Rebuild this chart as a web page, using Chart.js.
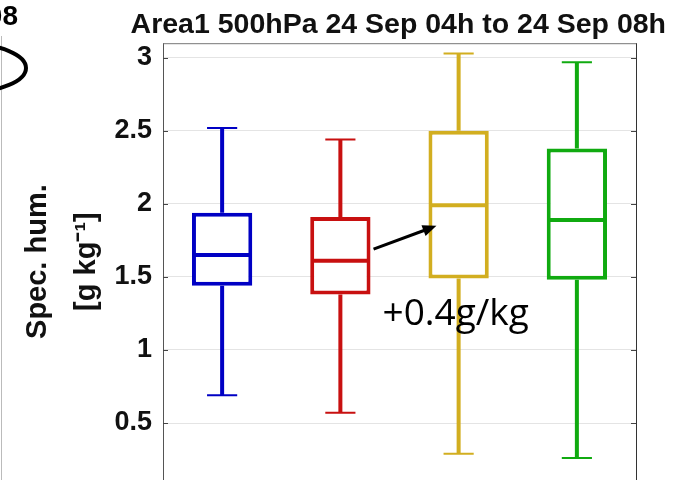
<!DOCTYPE html>
<html>
<head>
<meta charset="utf-8">
<title>Spec. hum. Area1 500hPa</title>
<script src="https://cdn.jsdelivr.net/npm/chart.js@4.4.1/dist/chart.umd.min.js"></script>
<style>
  body { margin: 0; background: #fff; }
  canvas { display: block; }
</style>
</head>
<body>
<canvas id="humChart" width="677" height="480"></canvas>
<script>
// values (g/kg)
var categories = ['1', '2', '3', '4'];
var lowerWhisker = [0.69, 0.57, 0.29, 0.26];
var lowerQuartile = [1.44, 1.38, 1.49, 1.48];
var medianValues = [1.65, 1.61, 1.99, 1.89];
var upperQuartile = [1.94, 1.91, 2.50, 2.38];
var upperWhisker = [2.52, 2.44, 3.03, 2.97];
var yTickValues = [0.5, 1, 1.5, 2, 2.5, 3];
var boxColors = ['#0000c4', '#c81010', '#d2ae20', '#10aa10'];

var FONT = "'Liberation Sans', Arial, sans-serif";

// whiskers under the boxes, medians on top
var boxPlot = {
    id: 'boxPlot',
    beforeDatasetsDraw: function(chart) {
        var ctx = chart.ctx;
        var y = chart.scales.y;
        chart.getDatasetMeta(0).data.forEach(function(bar, i) {
            var cap = bar.width / 4;
            ctx.save();
            ctx.strokeStyle = boxColors[i];
            ctx.lineWidth = 4;
            ctx.beginPath();
            ctx.moveTo(bar.x, y.getPixelForValue(upperQuartile[i]));
            ctx.lineTo(bar.x, y.getPixelForValue(upperWhisker[i]));
            ctx.moveTo(bar.x, y.getPixelForValue(lowerQuartile[i]));
            ctx.lineTo(bar.x, y.getPixelForValue(lowerWhisker[i]));
            ctx.stroke();
            ctx.lineWidth = 2;
            ctx.beginPath();
            ctx.moveTo(bar.x - cap, y.getPixelForValue(upperWhisker[i]));
            ctx.lineTo(bar.x + cap, y.getPixelForValue(upperWhisker[i]));
            ctx.moveTo(bar.x - cap, y.getPixelForValue(lowerWhisker[i]));
            ctx.lineTo(bar.x + cap, y.getPixelForValue(lowerWhisker[i]));
            ctx.stroke();
            ctx.restore();
        });
    },
    afterDatasetsDraw: function(chart) {
        var ctx = chart.ctx;
        var y = chart.scales.y;
        chart.getDatasetMeta(0).data.forEach(function(bar, i) {
            var half = bar.width / 2 - 2;
            var py = y.getPixelForValue(medianValues[i]);
            ctx.save();
            ctx.strokeStyle = boxColors[i];
            ctx.lineWidth = 4;
            ctx.beginPath();
            ctx.moveTo(bar.x - half, py);
            ctx.lineTo(bar.x + half, py);
            ctx.stroke();
            ctx.restore();
        });
    }
};

// top/right frame, inner tick marks, arrow + note, bits of the neighbour panel
var decorations = {
    id: 'decorations',
    afterDraw: function(chart) {
        var ctx = chart.ctx;
        var a = chart.chartArea;
        var y = chart.scales.y;
        var bars = chart.getDatasetMeta(0).data;

        ctx.save();
        ctx.strokeStyle = '#777';
        ctx.lineWidth = 1;
        ctx.beginPath();
        ctx.moveTo(a.left, a.top + 0.5);
        ctx.lineTo(a.right, a.top + 0.5);
        ctx.stroke();
        ctx.strokeStyle = '#333';
        ctx.beginPath();
        ctx.moveTo(a.right + 0.5, a.top);
        ctx.lineTo(a.right + 0.5, a.bottom);
        ctx.stroke();

        ctx.strokeStyle = '#444';
        ctx.beginPath();
        yTickValues.forEach(function(v) {
            var py = Math.round(y.getPixelForValue(v)) + 0.5;
            ctx.moveTo(a.left, py);
            ctx.lineTo(a.left + 5, py);
            ctx.moveTo(a.right, py);
            ctx.lineTo(a.right - 5, py);
        });
        ctx.stroke();

        // arrow from box 2 to box 3
        var x1 = bars[1].x + bars[1].width / 2 + 3, y1 = y.getPixelForValue(1.69);
        var x2 = bars[2].x - bars[2].width / 2 + 8, y2 = y.getPixelForValue(1.85);
        var ang = Math.atan2(y2 - y1, x2 - x1), head = 15;
        ctx.strokeStyle = '#000';
        ctx.fillStyle = '#000';
        ctx.lineWidth = 3;
        ctx.beginPath();
        ctx.moveTo(x1, y1);
        ctx.lineTo(x2 - head * 0.8 * Math.cos(ang), y2 - head * 0.8 * Math.sin(ang));
        ctx.stroke();
        ctx.beginPath();
        ctx.moveTo(x2, y2);
        ctx.lineTo(x2 - head * Math.cos(ang - 0.4), y2 - head * Math.sin(ang - 0.4));
        ctx.lineTo(x2 - head * Math.cos(ang + 0.4), y2 - head * Math.sin(ang + 0.4));
        ctx.closePath();
        ctx.fill();

        ctx.font = "37px 'Open Sans', sans-serif";
        ctx.textAlign = 'left';
        ctx.textBaseline = 'middle';
        ctx.fillText('+0.4g/kg', bars[1].x + bars[1].width / 2 + 12, y.getPixelForValue(1.24));

        // left neighbour panel (cut off)
        ctx.font = 'bold 28px ' + FONT;
        ctx.textAlign = 'right';
        ctx.textBaseline = 'alphabetic';
        ctx.fillText('08', 18, 25);
        ctx.strokeStyle = '#bbb';
        ctx.lineWidth = 1;
        ctx.beginPath();
        ctx.moveTo(1.5, 36);
        ctx.lineTo(1.5, 480);
        ctx.stroke();
        ctx.strokeStyle = '#000';
        ctx.lineWidth = 4;
        ctx.beginPath();
        ctx.ellipse(-32, 68, 58, 24, 0, -Math.PI / 2, Math.PI / 2);
        ctx.stroke();
        ctx.restore();
    }
};

var ctx = document.getElementById('humChart').getContext('2d');
new Chart(ctx, {
    type: 'bar',
    data: {
        labels: categories,
        datasets: [{
            data: lowerQuartile.map(function(v, i) { return [v, upperQuartile[i]]; }),
            backgroundColor: '#ffffff',
            borderColor: boxColors,
            borderWidth: 4,
            borderSkipped: false,
            barPercentage: 0.51,
            categoryPercentage: 1
        }]
    },
    options: {
        responsive: false,
        animation: false,
        layout: { autoPadding: false, padding: { left: 0, right: 11, top: 0, bottom: 0 } },
        scales: {
            x: { display: false },
            y: {
                min: 0.11,
                max: 3.1,
                afterBuildTicks: function(scale) {
                    scale.ticks = yTickValues.map(function(v) { return { value: v }; });
                },
                afterFit: function(scale) {
                    scale.width = 163;
                    scale.paddingTop = 0;
                    scale.paddingBottom = 0;
                },
                ticks: {
                    color: '#111',
                    padding: 11,
                    font: { family: FONT, size: 27, weight: 'bold' },
                    callback: function(value) { return String(value); }
                },
                grid: { color: '#e4e4e4', drawTicks: false },
                border: { display: true, color: '#555' },
                title: {
                    display: true,
                    text: ['Spec. hum.', '[g kg\u207B\u00B9]'],
                    color: '#111',
                    padding: { top: 13, bottom: 0 },
                    font: { family: FONT, size: 29, weight: 'bold', lineHeight: 1.69 }
                }
            },
            y2: {
                position: 'right',
                display: true,
                ticks: { display: false },
                grid: { display: false, drawTicks: false },
                border: { display: false },
                afterFit: function(scale) { scale.width = 30; }
            }
        },
        plugins: {
            legend: { display: false },
            tooltip: { enabled: false },
            title: {
                display: true,
                text: 'Area1 500hPa 24 Sep 04h to 24 Sep 08h',
                align: 'end',
                color: '#111',
                padding: { top: 8, bottom: 1 },
                font: { family: FONT, size: 28.5, weight: 'bold' }
            }
        }
    },
    plugins: [boxPlot, decorations]
});
</script>
</body>
</html>
